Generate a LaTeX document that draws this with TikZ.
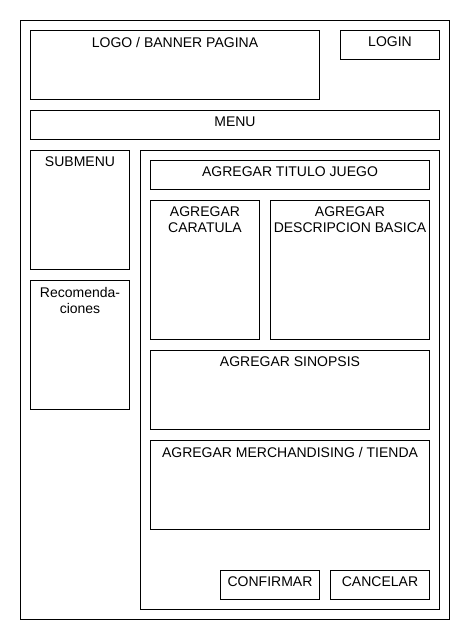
\documentclass[tikz,border=0pt]{standalone}
\usepackage{fontspec}
\setmainfont{Liberation Sans}
\begin{document}
\begin{tikzpicture}[x=1pt,y=-1pt,
  frame/.style={draw, line width=1pt, inner sep=0pt, anchor=north west},
  boxtitle/.style={anchor=north, inner sep=0pt, yshift=-7pt, align=center,
    font=\fontsize{14}{16}\selectfont}]
  \useasboundingbox[fill=white] (0,0) rectangle (470,640);
  % page frame
  \node[frame, minimum width=429pt, minimum height=599pt] (page) at (20,20) {};
  % header
  \node[frame, minimum width=289pt, minimum height=69pt,
    label={[boxtitle]north:LOGO / BANNER PAGINA}] (logo) at (30,30) {};
  \node[frame, minimum width=99pt, minimum height=29pt,
    label={[boxtitle]north:LOGIN}] (login) at (340,30) {};
  \node[frame, minimum width=409pt, minimum height=29pt,
    label={[boxtitle]north:MENU}] (menu) at (30,110) {};
  % left column
  \node[frame, minimum width=99pt, minimum height=119pt,
    label={[boxtitle]north:SUBMENU}] (submenu) at (30,150) {};
  \node[frame, minimum width=99pt, minimum height=129pt,
    label={[boxtitle]north:Recomenda-\\ciones}] (recom) at (30,280) {};
  % content panel
  \node[frame, minimum width=299pt, minimum height=459pt] (panel) at (140,150) {};
  \node[frame, minimum width=279pt, minimum height=29pt,
    label={[boxtitle]north:AGREGAR TITULO JUEGO}] (titulo) at (150,160) {};
  \node[frame, minimum width=109pt, minimum height=139pt,
    label={[boxtitle]north:AGREGAR\\CARATULA}] (caratula) at (150,200) {};
  \node[frame, minimum width=159pt, minimum height=139pt,
    label={[boxtitle]north:AGREGAR\\DESCRIPCION BASICA}] (desc) at (270,200) {};
  \node[frame, minimum width=279pt, minimum height=79pt,
    label={[boxtitle]north:AGREGAR SINOPSIS}] (sinopsis) at (150,350) {};
  \node[frame, minimum width=279pt, minimum height=89pt,
    label={[boxtitle]north:AGREGAR MERCHANDISING / TIENDA}] (merch) at (150,440) {};
  % buttons
  \node[frame, minimum width=99pt, minimum height=29pt,
    label={[boxtitle]north:CONFIRMAR}] (confirmar) at (220,570) {};
  \node[frame, minimum width=99pt, minimum height=29pt,
    label={[boxtitle]north:CANCELAR}] (cancelar) at (330,570) {};
\end{tikzpicture}
\end{document}
